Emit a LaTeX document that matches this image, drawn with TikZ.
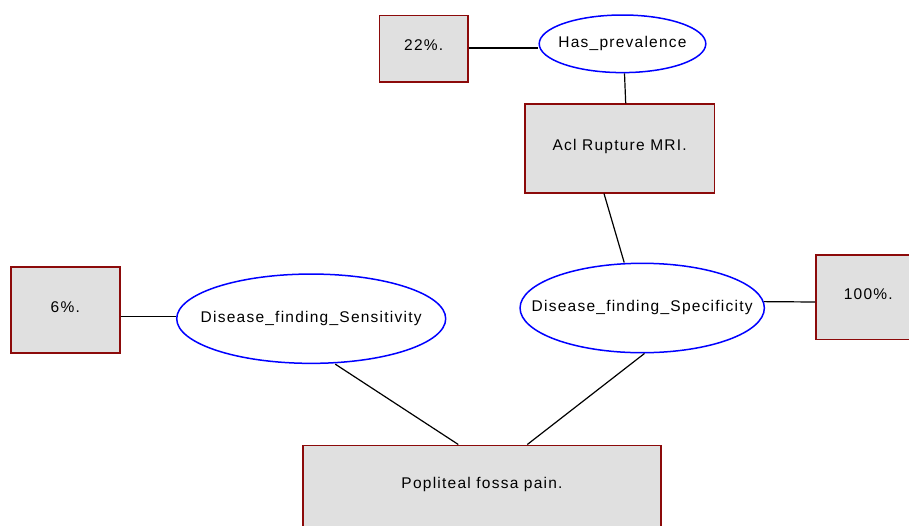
\documentclass[tikz,border=0pt]{standalone}
\usepackage{fontspec}
\setmainfont{Liberation Sans}[LetterSpace=8]
\usetikzlibrary{shapes.geometric}
\definecolor{boxfill}{RGB}{224,224,224}
\definecolor{boxline}{RGB}{140,10,10}
\definecolor{ellline}{RGB}{0,0,255}
\begin{document}
\begin{tikzpicture}[x=1pt,y=-1pt,
  font=\fontsize{15.5pt}{18pt}\selectfont,
  boxnode/.style={draw=boxline, fill=boxfill, line width=1.7pt, rectangle, inner sep=0pt, text height=11pt, text depth=7pt},
  ellnode/.style={draw=ellline, fill=white, line width=1.5pt, ellipse, inner sep=0pt},
  ltext/.style={inner sep=0pt, text height=11pt, text depth=4pt},
  conn/.style={draw=black, line width=1.2pt}]
\useasboundingbox (0,0) rectangle (909,525);
\clip (0,0) rectangle (909,525);
% boxes
\node[boxnode, minimum width=88.5pt, minimum height=66.5pt] (p22) at (423.75,48.75) {22\%.};
\node[boxnode, minimum width=189.3pt, minimum height=88.4pt] (acl) at (619.7,148.5) {Acl Rupture MRI.};
\node[boxnode, minimum width=109.3pt, minimum height=85.4pt] (p6) at (65.3,310) {6\%.};
\node[boxnode, minimum width=104.6pt, minimum height=84.3pt] (p100) at (868.3,297.2) {100\%.};
\node[boxnode, minimum width=357.4pt, minimum height=82.7pt] (pop) at (482,486.7) {Popliteal fossa pain.};
% ellipses
\node[ellnode, minimum width=166.6pt, minimum height=57.6pt] (hasprev) at (622.5,43.8) {};
\node[ltext] (hasprevt) at (hasprev.center) {Has\_prevalence};
\node[ellnode, minimum width=244.3pt, minimum height=89.4pt] (spec) at (642.2,308) {};
\node[ltext] (spect) at (spec.center) {Disease\_finding\_Specificity};
\node[ellnode, minimum width=269pt, minimum height=89.3pt] (sens) at (311.2,318.7) {};
\node[ltext] (senst) at (sens.center) {Disease\_finding\_Sensitivity};
% connectors
\draw[conn] ([yshift=0.75pt]p22.east) -- ([yshift=0.75pt]p22.east -| hasprev.west);
\draw[conn] ([xshift=2pt]hasprev.south) -- ([xshift=6pt]acl.north);
\draw[conn] ([xshift=-15.7pt]acl.south) -- ([xshift=-18pt]spec.north);
\draw[conn] (spec.3.5) -- ([yshift=-4.8pt]p100.west);
\draw[conn] ([yshift=-6.7pt]p6.east) -- ([yshift=-6.7pt]p6.east -| sens.west);
\draw[conn] ([xshift=24pt]sens.south) -- ([xshift=-23.7pt]pop.north);
\draw[conn] ([xshift=2.3pt]spec.south) -- ([xshift=45.3pt]pop.north);
\end{tikzpicture}
\end{document}
